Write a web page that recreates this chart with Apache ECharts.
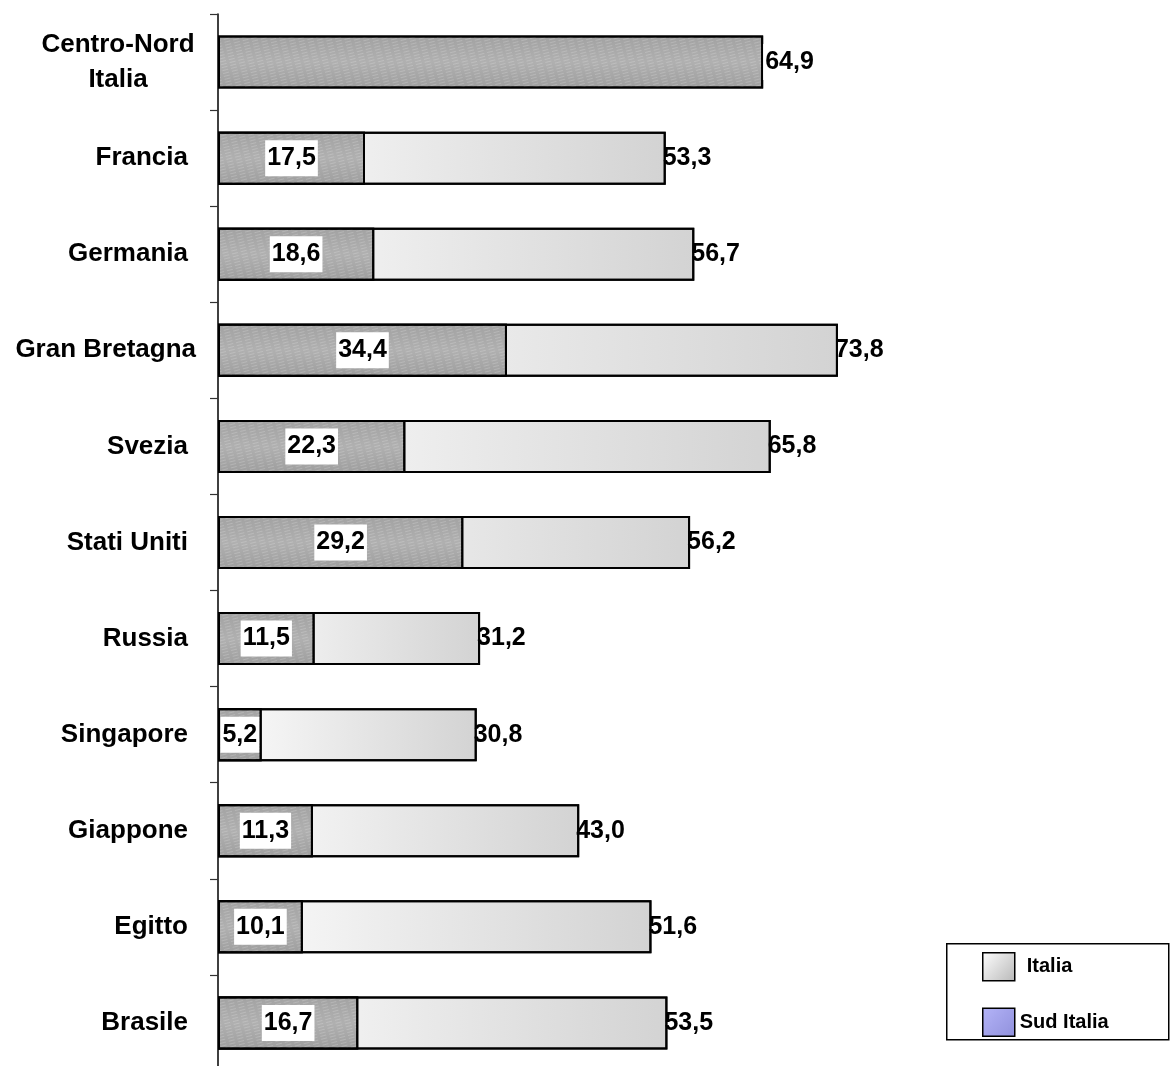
<!DOCTYPE html>
<html>
<head>
<meta charset="utf-8">
<style>
  html, body { margin: 0; padding: 0; background: #fff; }
  #chart { width: 1170px; height: 1066px; }
</style>
<script src="https://cdn.jsdelivr.net/npm/echarts@6/dist/echarts.min.js"></script>
</head>
<body>
<div id="chart"></div>
<script>
// Categories, top to bottom
const categories = ['Centro-Nord Italia', 'Francia', 'Germania', 'Gran Bretagna', 'Svezia',
  'Stati Uniti', 'Russia', 'Singapore', 'Giappone', 'Egitto', 'Brasile'];
// Country totals (light bars)
const italia = [null, 53.3, 56.7, 73.8, 65.8, 56.2, 31.2, 30.8, 43.0, 51.6, 53.5];
// Southern share (dark bars, drawn over the totals)
const sudItalia = [null, 17.5, 18.6, 34.4, 22.3, 29.2, 11.5, 5.2, 11.3, 10.1, 16.7];
// Centro-Nord reference bar
const centroNord = [64.9, null, null, null, null, null, null, null, null, null, null];

const FONT = 'Arial, "Liberation Sans", Helvetica, sans-serif';
const fmt = v => v.toFixed(1).replace('.', ',');

const darkFill = {
  type: 'linear', x: 0, y: 0, x2: 0, y2: 1,
  colorStops: [
    { offset: 0, color: '#a2a2a2' },
    { offset: 0.5, color: '#b0b0b0' },
    { offset: 1, color: '#9e9e9e' }
  ]
};
const darkDecal = {
  symbol: 'rect', symbolSize: 1,
  dashArrayX: [[6, 3]], dashArrayY: [1, 2],
  rotation: -0.25, color: 'rgba(255,255,255,0.18)'
};
const lightFill = {
  type: 'linear', x: 0, y: 0, x2: 1, y2: 0,
  colorStops: [
    { offset: 0, color: '#fcfcfc' },
    { offset: 1, color: '#d3d3d3' }
  ]
};
const lightDecal = {
  symbol: 'rect', symbolSize: 1,
  dashArrayX: [1, 3], dashArrayY: [[5, 2]],
  rotation: 0.3, color: 'rgba(0,0,0,0.035)'
};

const boxLabel = {
  fontFamily: FONT, fontSize: 25, fontWeight: 'bold', color: '#000',
  backgroundColor: '#fff', padding: [3, 2, 3, 2], lineHeight: 30
};

const chart = echarts.init(document.getElementById('chart'), null, { renderer: 'canvas' });

chart.setOption({
  animation: false,
  backgroundColor: '#fff',
  grid: { left: 218, top: 14, width: 840, height: 1057, containLabel: false, outerBoundsMode: 'none' },
  xAxis: {
    type: 'value', min: 0, max: 100,
    show: false
  },
  yAxis: {
    type: 'category', data: categories, inverse: true,
    axisLine: { show: true, lineStyle: { color: '#000', width: 1.5 } },
    axisTick: { show: true, length: 8, lineStyle: { color: '#333', width: 1.2 } },
    splitLine: { show: false },
    axisLabel: {
      margin: 22,
      fontFamily: FONT, fontSize: 26, fontWeight: 'bold', color: '#000',
      formatter: function (v) {
        if (v === 'Centro-Nord Italia') return '{c|Centro-Nord}\n{c|Italia}';
        if (v === 'Gran Bretagna') return '{w|' + v + '}';
        return '{n|' + v + '}';
      },
      rich: {
        n: { fontFamily: FONT, fontSize: 26, fontWeight: 'bold', color: '#000', padding: [0, 8, 0, 0] },
        w: { fontFamily: FONT, fontSize: 26, fontWeight: 'bold', color: '#000' },
        c: { fontFamily: FONT, fontSize: 26, fontWeight: 'bold', color: '#000',
             width: 156, align: 'center', lineHeight: 35 }
      }
    }
  },
  legend: {
    orient: 'vertical', left: 982, top: 952,
    itemWidth: 32, itemHeight: 28, itemGap: 26, padding: 0,
    icon: 'rect', selectedMode: false,
    textStyle: { fontFamily: FONT, fontSize: 20, fontWeight: 'bold', color: '#000' },
    data: [
      {
        name: 'Italia',
        itemStyle: {
          color: { type: 'linear', x: 0, y: 0, x2: 1, y2: 1,
            colorStops: [{ offset: 0, color: '#ffffff' }, { offset: 1, color: '#b8b8b8' }] },
          borderColor: '#000', borderWidth: 1.5, decal: 'none'
        },
        textStyle: { padding: [0, 0, 0, 7] }
      },
      {
        name: 'Sud Italia',
        itemStyle: {
          color: { type: 'linear', x: 0, y: 0, x2: 1, y2: 1,
            colorStops: [{ offset: 0, color: '#b4b4f8' }, { offset: 1, color: '#9090dc' }] },
          borderColor: '#000', borderWidth: 1.5, decal: 'none'
        }
      }
    ]
  },
  graphic: [{
    type: 'rect', left: 946, top: 943, z: -1,
    shape: { width: 222, height: 96 },
    style: { fill: '#fff', stroke: '#000', lineWidth: 1.5 }
  }],
  series: [
    {
      name: 'Italia', type: 'bar', data: italia,
      barWidth: 53, barGap: '-100%',
      itemStyle: { color: lightFill, borderColor: '#000', borderWidth: 2, decal: lightDecal },
      label: {
        show: true, position: 'right', distance: -3,
        fontFamily: FONT, fontSize: 25, fontWeight: 'bold', color: '#000',
        formatter: p => fmt(p.value)
      },
      z: 2
    },
    {
      name: 'Sud Italia', type: 'bar', data: sudItalia,
      barWidth: 53, barGap: '-100%',
      itemStyle: { color: darkFill, borderColor: '#000', borderWidth: 2, decal: darkDecal },
      label: Object.assign({ show: true, position: 'inside', formatter: p => fmt(p.value) }, boxLabel),
      z: 3
    },
    {
      name: 'Centro-Nord Italia', type: 'bar', data: centroNord,
      barWidth: 53, barGap: '-100%',
      itemStyle: { color: darkFill, borderColor: '#000', borderWidth: 2, decal: darkDecal },
      label: Object.assign({ show: true, position: 'right', distance: 0, formatter: p => fmt(p.value) }, boxLabel),
      z: 3
    }
  ]
});
</script>
</body>
</html>
